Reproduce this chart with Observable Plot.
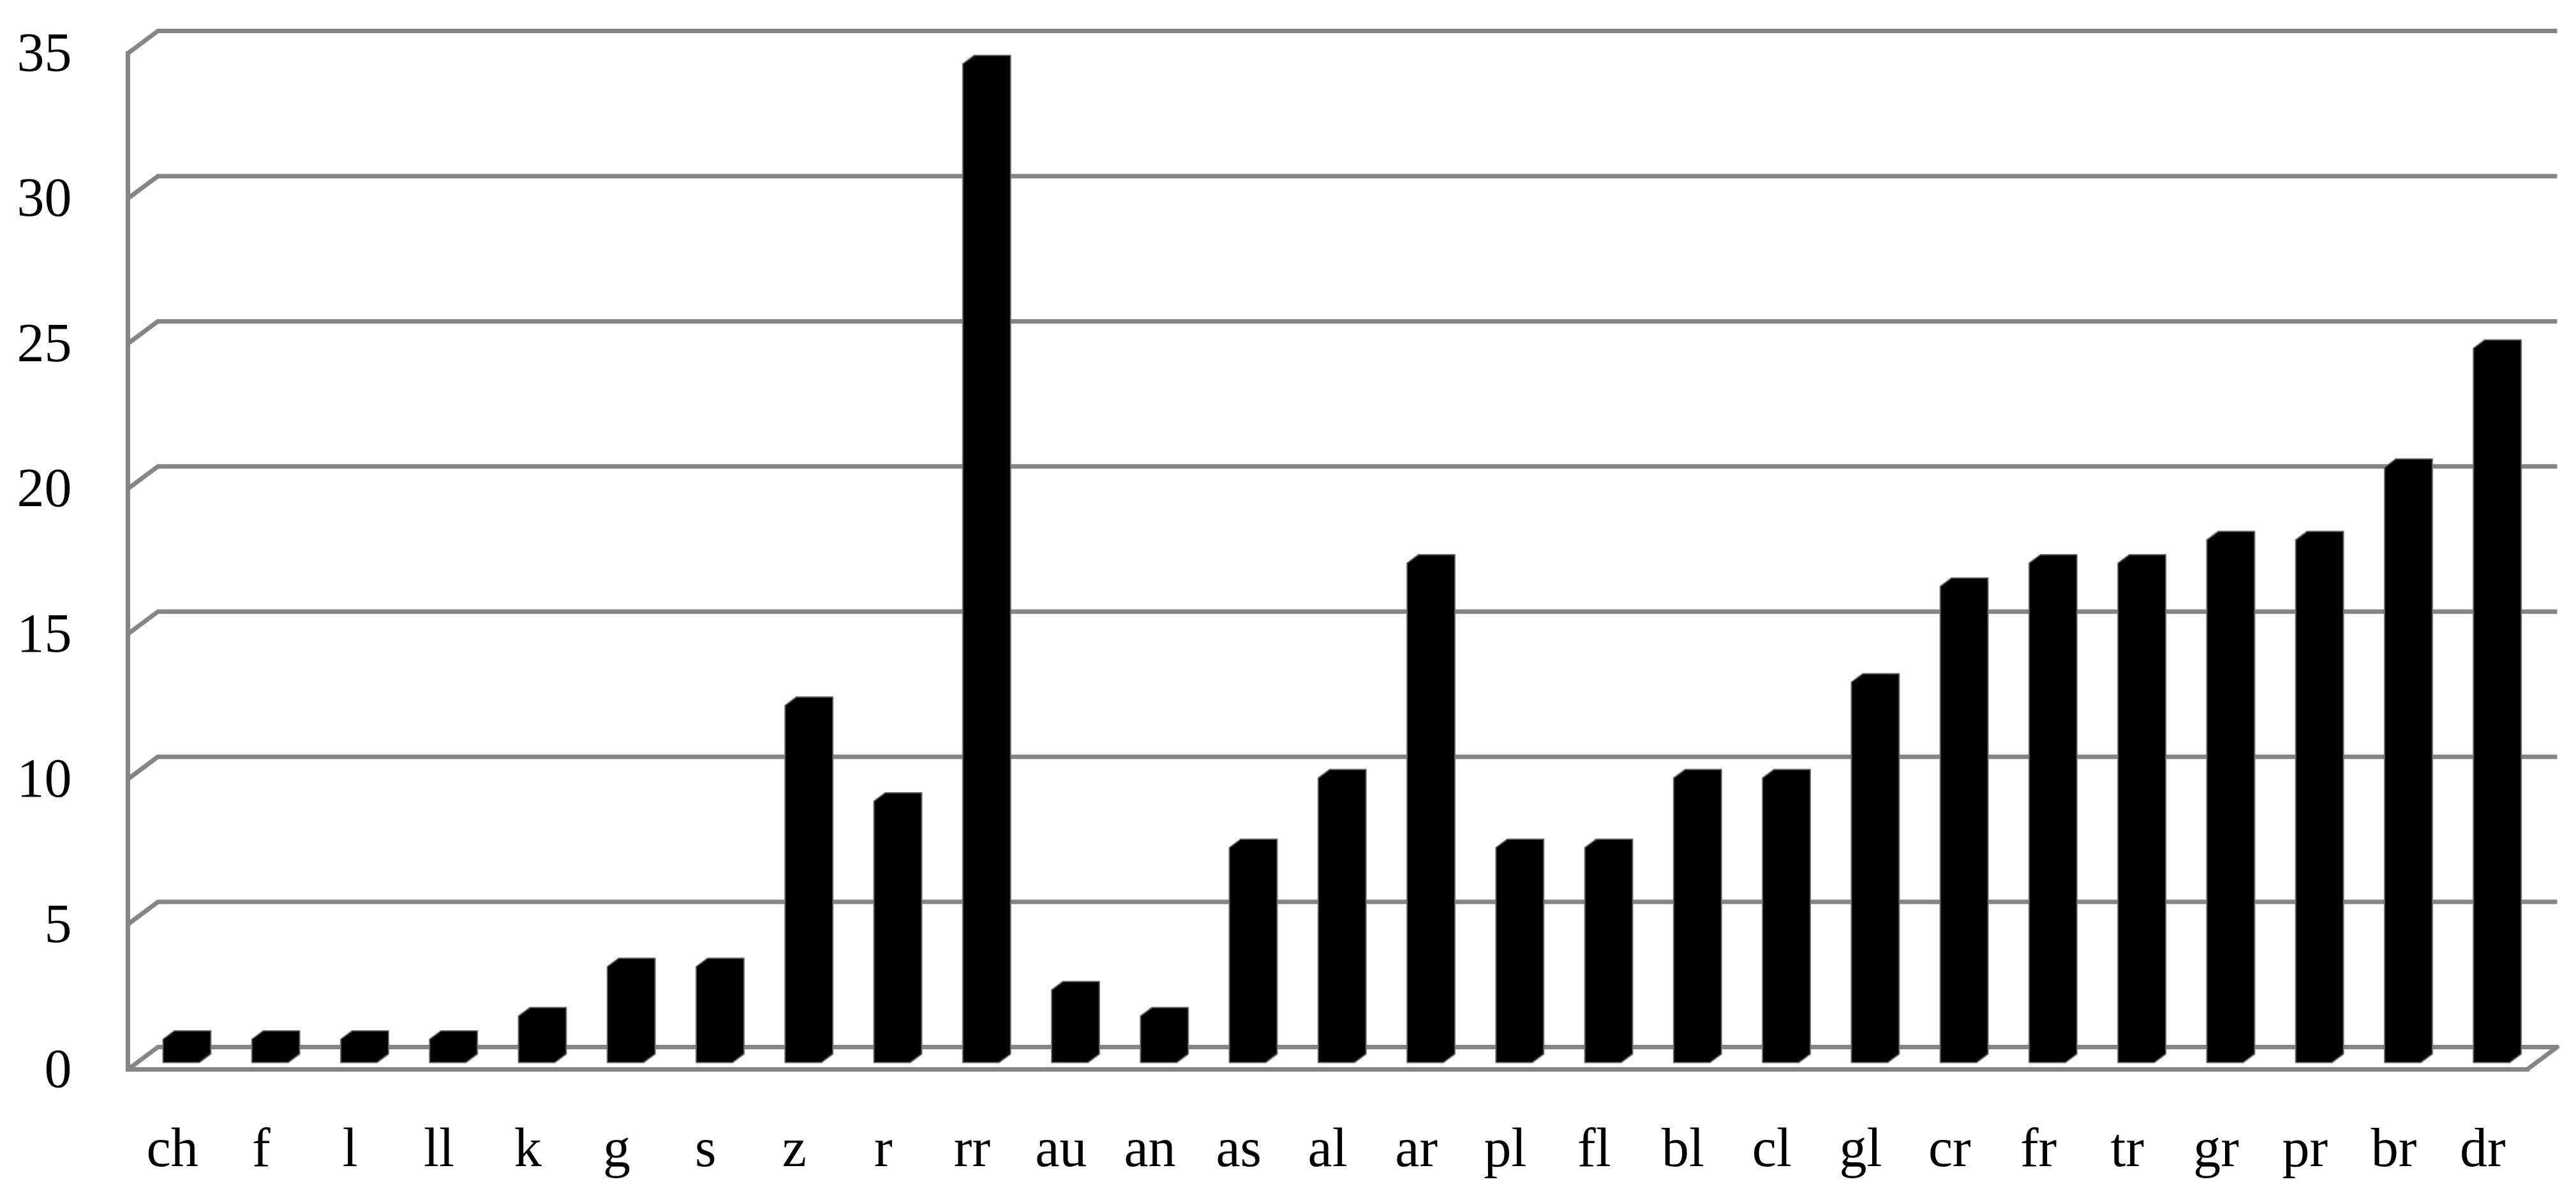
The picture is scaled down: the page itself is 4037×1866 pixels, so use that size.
<!DOCTYPE html>
<html>
<head>
<meta charset="utf-8">
<script src="https://cdn.jsdelivr.net/npm/d3@7"></script>
<script src="https://cdn.jsdelivr.net/npm/@observablehq/plot@0.6"></script>
<style>
  html, body { margin: 0; padding: 0; background: #ffffff; overflow: hidden; }
</style>
</head>
<body>
<div id="chart"></div>
<script>
// ---- data ----
const categories = ["ch","f","l","ll","k","g","s","z","r","rr","au","an","as","al","ar","pl","fl","bl","cl","gl","cr","fr","tr","gr","pr","br","dr"];
const values = [0.8,0.8,0.8,0.8,1.6,3.3,3.3,12.3,9.0,34.4,2.5,1.6,7.4,9.8,17.2,7.4,7.4,9.8,9.8,13.1,16.4,17.2,17.2,18.0,18.0,20.5,24.6];
const yTicks = [0,5,10,15,20,25,30,35];

// ---- 3D styling (in scale units) ----
const N = categories.length;
const DX = 0.3375;   // depth along x (category units)
const DY = 0.769;    // depth along y (value units)
const F1 = 0.31, F2 = 0.69;      // bar front / back depth fractions
const BX0 = 0.29, BX1 = 0.70;    // bar face within band
const gridColor = "#858585";
const gridWidth = 7;

const bars = categories.map((c, i) => ({cat: c, v: values[i], i}));
const poly = bars.flatMap(({cat, v, i}) => {
  const fx0 = i + BX0 + F1 * DX, fx1 = i + BX1 + F1 * DX;
  const fyb = F1 * DY, fyt = v + F1 * DY;
  const bx = (F2 - F1) * DX, by = (F2 - F1) * DY;
  return [
    {cat, x: fx0, y: fyb},
    {cat, x: fx0, y: fyt},
    {cat, x: fx0 + bx, y: fyt + by},
    {cat, x: fx1 + bx, y: fyt + by},
    {cat, x: fx1 + bx, y: fyb + by},
    {cat, x: fx1, y: fyb}
  ];
});

const y0 = yTicks[0], yMax = yTicks[yTicks.length - 1];

const chart = Plot.plot({
  width: 4037,
  height: 1866,
  marginLeft: 200,
  marginRight: 77,
  marginTop: 83,
  marginBottom: 191,
  x: {type: "linear", domain: [0, N]},
  y: {type: "linear", domain: [y0, yMax]},
  style: {fontFamily: "'Liberation Serif', 'Times New Roman', serif", fontSize: "86px", color: "#000", background: "#fff"},
  marks: [
    // back wall gridlines
    Plot.link(yTicks, {x1: () => DX, y1: d => d + DY, x2: () => N + DX, y2: d => d + DY,
      stroke: gridColor, strokeWidth: gridWidth, strokeLinecap: "butt"}),
    // left wall diagonals
    Plot.link(yTicks, {x1: () => 0, y1: d => d, x2: () => DX, y2: d => d + DY,
      stroke: gridColor, strokeWidth: gridWidth, strokeLinecap: "round"}),
    // left wall front edge
    Plot.link([yMax], {x1: () => 0, y1: () => y0, x2: () => 0, y2: d => d,
      stroke: gridColor, strokeWidth: gridWidth, strokeLinecap: "square"}),
    // floor front edge
    Plot.link([y0], {x1: () => 0, y1: d => d, x2: () => N, y2: d => d,
      stroke: gridColor, strokeWidth: gridWidth, strokeLinecap: "square"}),
    // floor right diagonal
    Plot.link([y0], {x1: () => N, y1: d => d, x2: () => N + DX, y2: d => d + DY,
      stroke: gridColor, strokeWidth: gridWidth, strokeLinecap: "round"}),
    // bars
    Plot.line(poly, {x: "x", y: "y", z: "cat", curve: "linear-closed",
      fill: "#000", stroke: "#6a6a6a", strokeWidth: 2, strokeLinejoin: "miter"}),
    // axes
    Plot.axisY({ticks: yTicks, tickSize: 0, tickPadding: 88, anchor: "left", label: null}),
    Plot.axisX({ticks: categories.map((c, i) => i + 0.5), tickFormat: d => categories[Math.round(d - 0.5)],
      tickSize: 0, tickPadding: 90, anchor: "bottom", label: null})
  ]
});
document.getElementById("chart").appendChild(chart);
</script>
</body>
</html>
